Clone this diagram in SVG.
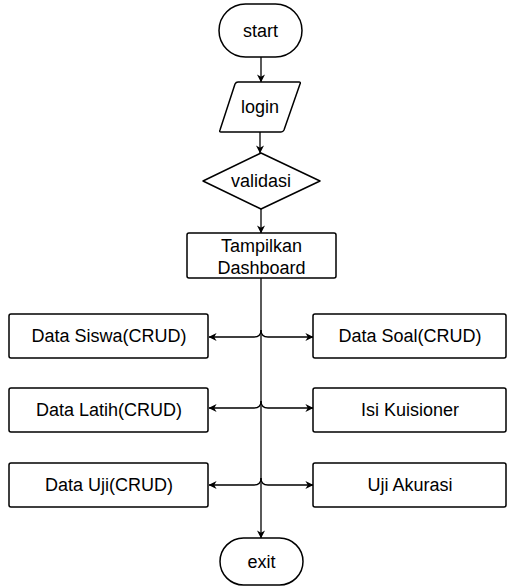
<svg xmlns="http://www.w3.org/2000/svg" width="508" height="587" viewBox="0 0 508 587">
  <style>
    .shape { fill: #ffffff; stroke: #000000; stroke-width: 1.5; }
    .label { font-family: "Liberation Sans", Arial, sans-serif; font-size: 18px; fill: #000000; text-anchor: middle; dominant-baseline: central; }
    .edge { fill: none; stroke: #000000; stroke-width: 1.3; }
  </style>
  <defs>
    <marker id="arrow" viewBox="0 0 10 10" refX="9.5" refY="5" markerWidth="8" markerHeight="8" markerUnits="userSpaceOnUse" orient="auto">
      <path d="M0,0 L10,5 L0,10 L3,5 Z" fill="#000000"/>
    </marker>
  </defs>
  <rect width="508" height="587" fill="#ffffff"/>

  <!-- connectors -->
  <g id="connectors">
    <path class="edge" d="M261,57 L261,82" marker-end="url(#arrow)"/>
    <path class="edge" d="M260,132 L260,153" marker-end="url(#arrow)"/>
    <path class="edge" d="M261,209 L261,233" marker-end="url(#arrow)"/>
    <path class="edge" d="M261,278 L261,538" marker-end="url(#arrow)"/>
    <!-- branches to the left column -->
    <path class="edge" d="M261,330 Q261,337 254,337 L209,337" marker-end="url(#arrow)"/>
    <path class="edge" d="M261,401 Q261,408 254,408 L209,408" marker-end="url(#arrow)"/>
    <path class="edge" d="M261,478 Q261,485 254,485 L209,485" marker-end="url(#arrow)"/>
    <!-- branches to the right column -->
    <path class="edge" d="M261,330 Q261,337 268,337 L313,337" marker-end="url(#arrow)"/>
    <path class="edge" d="M261,401 Q261,408 268,408 L313,408" marker-end="url(#arrow)"/>
    <path class="edge" d="M261,478 Q261,485 268,485 L313,485" marker-end="url(#arrow)"/>
  </g>

  <g id="start">
    <rect class="shape" x="219" y="4" width="83" height="53" rx="26.5" ry="26.5"/>
    <text class="label" x="260.5" y="31">start</text>
  </g>

  <g id="login">
    <path class="shape" d="M238,82 L299,82 Q301,82 300,84 L284,130 Q283,132 281,132 L221,132 Q219,132 220,130 L235,84 Q236,82 238,82 Z"/>
    <text class="label" x="260" y="107">login</text>
  </g>

  <g id="validasi">
    <path class="shape" d="M261,153 L320,181 L261,209 L203,181 Z" stroke-linejoin="round"/>
    <text class="label" x="261" y="181">validasi</text>
  </g>

  <g id="dashboard">
    <rect class="shape" x="187" y="233" width="149" height="45" rx="2" ry="2"/>
    <text class="label" x="261.5" y="246">Tampilkan</text>
    <text class="label" x="261.5" y="268">Dashboard</text>
  </g>

  <g id="data-siswa">
    <rect class="shape" x="9" y="314" width="199" height="44" rx="2" ry="2"/>
    <text class="label" x="109" y="336">Data Siswa(CRUD)</text>
  </g>

  <g id="data-latih">
    <rect class="shape" x="9" y="388" width="199" height="44" rx="2" ry="2"/>
    <text class="label" x="109" y="410">Data Latih(CRUD)</text>
  </g>

  <g id="data-uji">
    <rect class="shape" x="9" y="463" width="199" height="44" rx="2" ry="2"/>
    <text class="label" x="109" y="485">Data Uji(CRUD)</text>
  </g>

  <g id="data-soal">
    <rect class="shape" x="313" y="314" width="193" height="44" rx="2" ry="2"/>
    <text class="label" x="410" y="336">Data Soal(CRUD)</text>
  </g>

  <g id="isi-kuisioner">
    <rect class="shape" x="313" y="388" width="193" height="44" rx="2" ry="2"/>
    <text class="label" x="410" y="410">Isi Kuisioner</text>
  </g>

  <g id="uji-akurasi">
    <rect class="shape" x="313" y="463" width="193" height="44" rx="2" ry="2"/>
    <text class="label" x="410" y="485">Uji Akurasi</text>
  </g>

  <g id="exit">
    <rect class="shape" x="220" y="538" width="83" height="47" rx="23.5" ry="23.5"/>
    <text class="label" x="261.5" y="562">exit</text>
  </g>
</svg>
